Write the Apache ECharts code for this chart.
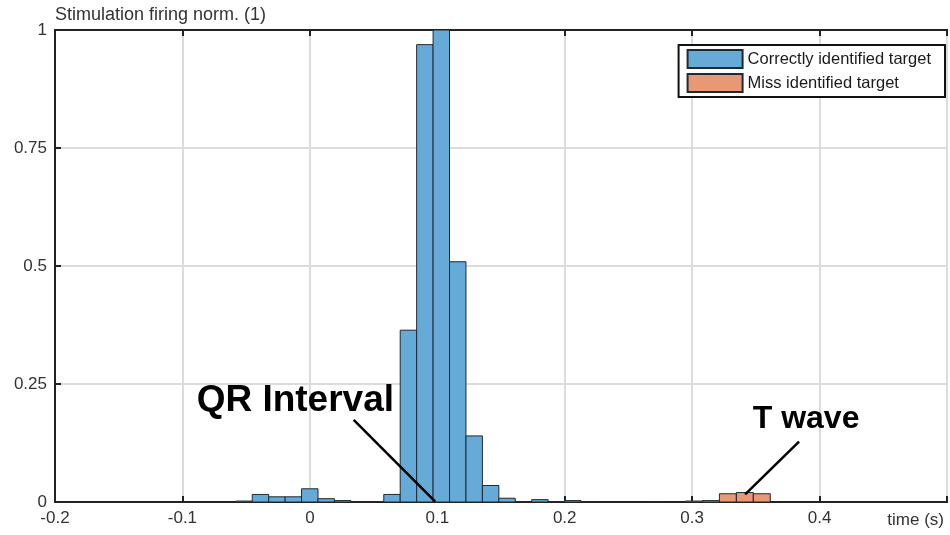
<!DOCTYPE html>
<html>
<head>
<meta charset="utf-8">
<script src="https://cdn.jsdelivr.net/npm/echarts@6/dist/echarts.min.js"></script>
<style>html,body{margin:0;padding:0;background:#fff;}#c{width:950px;height:535px;}</style>
</head>
<body>
<div id="c"></div>
<script>
// Histogram bins (left edge, right edge) and normalised heights
const blueLeft  = [-0.0581,-0.0452,-0.0323,-0.0194,-0.0065,0.0064,0.0193,0.0322,0.0451,0.0580,0.0709,0.0838,0.0967,0.1096,0.1225,0.1354,0.1483,0.1612,0.1741,0.1870,0.1999,0.2128,0.2644];
const blueRight = [-0.0452,-0.0323,-0.0194,-0.0065,0.0064,0.0193,0.0322,0.0451,0.0580,0.0709,0.0838,0.0967,0.1096,0.1225,0.1354,0.1483,0.1612,0.1741,0.1870,0.1999,0.2128,0.2257,0.2773];
const blueValues= [0.002,0.016,0.011,0.011,0.028,0.007,0.003,0.001,0.000,0.016,0.364,0.969,1.000,0.509,0.140,0.035,0.008,0.001,0.005,0.001,0.003,0.001,0.001];

const orangeLeft  = [0.2948,0.3081,0.3214,0.3347,0.3480];
const orangeRight = [0.3081,0.3214,0.3347,0.3480,0.3613];
const orangeValues= [0.002,0.003,0.0175,0.020,0.0175];

const xTicks = [-0.2,-0.1,0,0.1,0.2,0.3,0.4,0.5];
const yTicks = [0,0.25,0.5,0.75,1];

const seriesNames = ['Correctly identified target','Miss identified target'];
const FONT = "'Liberation Sans', Arial, sans-serif";

function toRows(l, r, v){ return l.map((x,i)=>[x, r[i], v[i]]); }

function renderBin(params, api){
  const x0 = api.value(0), x1 = api.value(1), y = api.value(2);
  const p0 = api.coord([x0, y]);
  const p1 = api.coord([x1, 0]);
  const st = api.style();
  return {
    type:'rect',
    shape:{x:p0[0], y:p0[1], width:p1[0]-p0[0], height:p1[1]-p0[1]},
    style:{fill:st.fill, stroke:'#1e2a33', lineWidth:1}
  };
}

const chart = echarts.init(document.getElementById('c'), null, {renderer:'canvas'});
chart.setOption({
  animation:false,
  backgroundColor:'#fff',
  textStyle:{fontFamily:FONT},
  grid:{left:55, right:2, top:30, bottom:33, show:true, borderColor:'#222', borderWidth:2, backgroundColor:'transparent'},
  legend:{
    data:seriesNames, orient:'vertical', right:5, top:45,
    backgroundColor:'#fff', borderColor:'#111', borderWidth:2,
    padding:[4,14,4,8], itemWidth:55, itemHeight:18, itemGap:4,
    icon:'rect',
    textStyle:{fontSize:16.5, color:'#1a1a1a', fontFamily:FONT}
  },
  xAxis:[{
    type:'value', min:xTicks[0], max:xTicks[xTicks.length-1], interval:0.1,
    position:'bottom',
    name:'time (s)', nameLocation:'end', nameGap:-3,
    nameTextStyle:{align:'right', verticalAlign:'top', padding:[10,0,0,0], fontSize:17, color:'#333', fontFamily:FONT},
    axisLine:{show:true, onZero:false, lineStyle:{color:'#222', width:2}},
    axisTick:{show:true, inside:true, length:6, lineStyle:{color:'#222', width:2}},
    axisLabel:{margin:8, fontSize:17, color:'#333', fontFamily:FONT,
      formatter:function(v){ const r = Math.round(v*10)/10; return r===0.5 ? '' : String(r); }},
    splitLine:{show:true, lineStyle:{color:'#dcdcdc', width:2}}
  },{
    type:'value', min:xTicks[0], max:xTicks[xTicks.length-1], interval:0.1,
    position:'top',
    axisLine:{show:true, onZero:false, lineStyle:{color:'#222', width:2}},
    axisTick:{show:true, inside:true, length:6, lineStyle:{color:'#222', width:2}},
    axisLabel:{show:false}, splitLine:{show:false}
  }],
  yAxis:{
    type:'value', min:yTicks[0], max:yTicks[yTicks.length-1], interval:0.25,
    position:'left',
    name:'Stimulation firing norm. (1)', nameLocation:'end', nameGap:6,
    nameTextStyle:{align:'left', verticalAlign:'bottom', fontSize:18, color:'#333', fontFamily:FONT},
    axisLine:{show:true, onZero:false, lineStyle:{color:'#222', width:2}},
    axisTick:{show:true, inside:true, length:6, lineStyle:{color:'#222', width:2}},
    axisLabel:{margin:8, fontSize:17, color:'#333', fontFamily:FONT,
      formatter:function(v){ return String(Math.round(v*100)/100); }},
    splitLine:{show:true, lineStyle:{color:'#dcdcdc', width:2}}
  },
  series:[{
    name:seriesNames[0], type:'custom', renderItem:renderBin,
    encode:{x:[0,1], y:2}, data:toRows(blueLeft, blueRight, blueValues),
    itemStyle:{color:'#66aad7', borderColor:'#1e2a33', borderWidth:1},
    clip:true, z:3,
    markLine:{
      silent:true, symbol:['none','none'], animation:false,
      label:{show:false},
      lineStyle:{color:'#000', width:2.5, type:'solid'},
      data:[
        [{coord:[0.0344,0.174]},{coord:[0.0984,0.001]}],
        [{coord:[0.3839,0.128]},{coord:[0.3416,0.016]}]
      ]
    },
    markPoint:{
      silent:true, symbol:'circle', symbolSize:0, animation:false,
      label:{show:true, position:'inside', color:'#000', fontWeight:'bold', fontFamily:FONT},
      data:[
        {coord:[-0.0114,0.214], value:'QR Interval', label:{formatter:'QR Interval', fontSize:37}},
        {coord:[0.3894,0.176], value:'T wave', label:{formatter:'T wave', fontSize:32}}
      ]
    }
  },{
    name:seriesNames[1], type:'custom', renderItem:renderBin,
    encode:{x:[0,1], y:2}, data:toRows(orangeLeft, orangeRight, orangeValues),
    itemStyle:{color:'#e89875', borderColor:'#1e2a33', borderWidth:1},
    clip:true, z:3
  }]
});
</script>
</body>
</html>
